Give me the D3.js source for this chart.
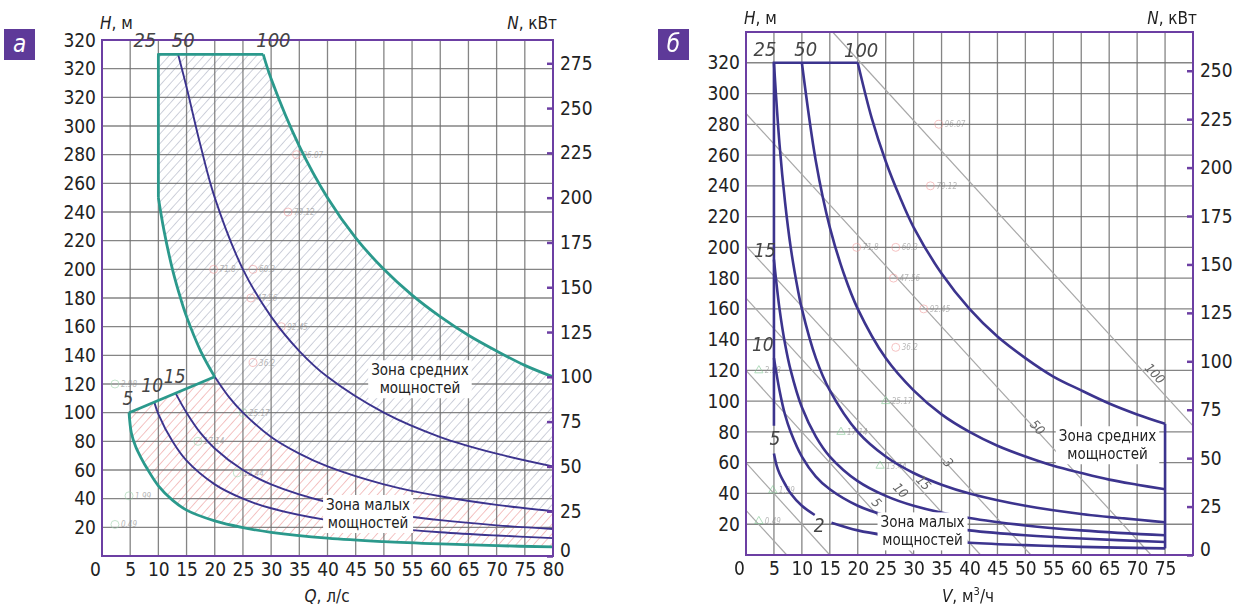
<!DOCTYPE html>
<html>
<head>
<meta charset="utf-8">
<script src="https://cdn.jsdelivr.net/npm/d3@7"></script>
<style>
  body { margin: 0; background: #fff; }
  svg text { font-family: "Liberation Sans Narrow", "DejaVu Sans Condensed", "Roboto", sans-serif; }
</style>
</head>
<body>
<svg id="chart" width="1234" height="606"></svg>
<script>
// ---- data ----
const qTicksA = [5,10,15,20,25,30,35,40,45,50,55,60,65,70,75,80];
const qTicksB = [5,10,15,20,25,30,35,40,45,50,55,60,65,70,75];
const qGrid = [5,10,15,20,25,30,35,40,45,50,55,60,65,70,75];
const hTicksA = [20,40,60,80,100,120,140,160,180,200,220,240,260,280,300,320,340,360];
const hLabelsA = ["20","40","60","80","100","120","140","160","180","200","220","240","260","280","300","320","320","320"];
const hTicksB = [20,40,60,80,100,120,140,160,180,200,220,240,260,280,300,320];
const nTicksA = [0,25,50,75,100,125,150,175,200,225,250,275];
const nTicksB = [0,25,50,75,100,125,150,175,200,225,250];

// panel а, Q (l/s) vs H (m)
const c5A = [[4.8,100],[5.2,86],[6,76],[7,68],[8,61],[10,49],[12.5,39],[15,32],[20,24.5],[25,19.8],[30,16.5],[40,12.4],[50,10],[60,8.4],[70,7.2],[80,6.3]];
const c10A = [[9.3,107],[10,99],[12.5,80],[15,66.5],[20,50],[25,40],[30,33.3],[40,25],[50,20],[60,16.6],[70,14.3],[80,12.5]];
const c15A = [[13,114],[15,100],[17.5,85.7],[20,75],[25,60],[30,50],[40,37.5],[50,30],[60,25],[70,21.4],[80,18.8]];
const c25AUp = [[10,250],[11,227],[12.5,200],[14,179],[15,167],[17.5,143],[20,125]];
const c25ALow = [[20,125],[22.5,111],[25,100],[30,83],[35,71.4],[40,62.5],[50,50],[60,41.7],[70,35.7],[80,31.3]];
const c50A = [[13.5,350],[15,327],[17.5,286],[20,250],[25,200],[30,167],[35,143],[40,125],[50,100],[60,83],[70,71.4],[80,62.5]];
const c100A = [[28.6,350],[30,333],[35,286],[40,250],[45,222],[50,200],[55,182],[60,167],[65,154],[70,143],[75,133],[80,125]];
const topA = [[10,250],[10,350],[28.6,350]];
const baseA = [[4.8,100],[20,125]];

// panel б, V (m3/h) vs H (m)
const c5Ba = [[5,66],[5.5,58],[6,53],[7,46],[8,40],[10,32],[12.3,26]];
const c5Bb = [[15.3,21],[20,16],[25,12.8],[30,10.7],[40,8],[50,6.4],[60,5.3],[75,4.3]];
const c10B = [[5,128],[6,107],[7,91],[8,80],[10,64],[12.5,51],[15,42.7],[20,32],[25,25.6],[30,21.3],[40,16],[50,12.8],[60,10.7],[75,8.5]];
const c15B = [[5,192],[6,160],[7,137],[8,120],[10,96],[12.5,77],[15,64],[20,48],[25,38.4],[30,32],[40,24],[50,19.2],[60,16],[75,12.8]];
const c25B = [[5,320],[6,267],[7,229],[8,200],[9,178],[10,160],[12.5,128],[15,107],[20,80],[25,64],[30,53.3],[35,45.7],[40,40],[50,32],[60,26.7],[75,21.3]];
const c50B = [[10,320],[12.5,256],[15,213],[17.5,183],[20,160],[25,128],[30,107],[35,91.4],[40,80],[45,71],[50,64],[55,58],[60,53.3],[65,49],[70,45.7],[75,42.7]];
const c100B = [[20,320],[22.5,284],[25,256],[27.5,233],[30,213],[35,183],[40,160],[45,142],[50,128],[55,116],[60,107],[65,98.5],[70,91.4],[75,85.3]];
const topB = [[5,84],[5,320],[20,320]];
const rightB = [[75,85.3],[75,4.3]];
const diagB = [
  [[15.5,340],[80,84]],
  [[0,287],[72.5,0]],
  [[0,201],[51,0]],
  [[0,167],[42,0]],
  [[0,120],[30,0]],
  [[0,60],[15,0]],
  [[0,29],[7.3,0]]
];

// faint test points, same in both panels
const marks = [
  [34.5,280,"96.07"],[33,240,"79.12"],[19.8,200,"71.8"],[26.8,200,"60.3"],
  [26.4,180,"47.56"],[31.8,160,"92.45"],[26.8,135,"36.2"],
  [25,100,"25.17"],[17,80,"17.14"],[24,58,"13.44"],[4.8,42,"1.99"],[2.3,22,"0.49"],[2.3,120,"2.98"]
];

const PURPLE = "#6c3fa3", TEAL = "#2b998c", INK = "#3c348e", GRID = "#707070";

const svg = d3.select("#chart");
const defs = svg.append("defs");

function hatch(id, color) {
  let p = defs.append("pattern")
    .attr("id", id)
    .attr("patternUnits", "userSpaceOnUse")
    .attr("width", 6.5).attr("height", 6.5)
    .attr("patternTransform", "rotate(42)");
  p.append("line")
    .attr("x1", 0).attr("y1", 0).attr("x2", 0).attr("y2", 6.5)
    .attr("stroke", color).attr("stroke-width", 1.2);
}
hatch("hGray", "#aeb3c4");
hatch("hRed", "#ec9c9c");

function panel(p) {
  let x = d3.scaleLinear().domain([0, 80]).range([p.left, p.right]);
  let y = d3.scaleLinear().domain([0, p.hMax]).range([p.bottom, p.top]);
  let yN = d3.scaleLinear().domain([0, p.nMax]).range([p.bottom, p.top]);
  let g = svg.append("g");
  let curved = d3.line().x(d => x(d[0])).y(d => y(d[1])).curve(d3.curveCatmullRom.alpha(0.5));
  let straight = d3.line().x(d => x(d[0])).y(d => y(d[1]));
  return {x, y, yN, g, curved, straight, p};
}

function region(P, segs) {
  // segs: [points, isCurved]
  return segs.map((s, i) => {
    let d = (s[1] ? P.curved : P.straight)(s[0]);
    return i ? "L" + d.slice(1) : d;
  }).join("") + "Z";
}

function grid(P, hGrid) {
  let {x, y, g, p} = P;
  g.append("g").selectAll("line").data(qGrid).join("line")
    .attr("x1", d => x(d)).attr("x2", d => x(d))
    .attr("y1", p.top).attr("y2", p.bottom)
    .attr("stroke", GRID).attr("stroke-width", 1.3).attr("opacity", 0.85);
  g.append("g").selectAll("line").data(hGrid).join("line")
    .attr("x1", p.left).attr("x2", p.right)
    .attr("y1", d => y(d)).attr("y2", d => y(d))
    .attr("stroke", GRID).attr("stroke-width", 1.3).attr("opacity", 0.85);
}

function axes(P, cfg) {
  let {x, y, yN, g, p} = P;
  let ax = g.append("g").attr("transform", "translate(" + p.left + ",0)")
    .call(d3.axisLeft(y).tickValues(cfg.hTicks).tickFormat((d, i) => cfg.hLabels[i]).tickSize(0).tickPadding(6));
  let bx = g.append("g").attr("transform", "translate(0," + p.bottom + ")")
    .call(d3.axisBottom(x).tickValues(cfg.qTicks).tickSize(0).tickPadding(7));
  let nx = g.append("g").attr("transform", "translate(" + p.right + ",0)")
    .call(d3.axisRight(yN).tickValues(cfg.nTicks).tickSizeInner(-6).tickSizeOuter(0).tickPadding(7));
  [ax, bx, nx].forEach(a => {
    a.select(".domain").remove();
    a.selectAll("text").attr("font-size", 19).attr("fill", "#222")
      .style("font-family", "'Liberation Sans Narrow','DejaVu Sans Condensed',Roboto,sans-serif");
  });
  nx.selectAll("line").attr("stroke", PURPLE).attr("stroke-width", 2.5);
  // the zero of N sits a little above the frame corner
  nx.selectAll(".tick text").filter(d => d === 0).attr("y", -6);
  g.append("text").attr("x", p.left - 12).attr("y", p.bottom + 20)
    .attr("font-size", 19).attr("fill", "#222").text("0");
  g.append("rect")
    .attr("x", p.left).attr("y", p.top)
    .attr("width", p.right - p.left).attr("height", p.bottom - p.top)
    .attr("fill", "none").attr("stroke", PURPLE).attr("stroke-width", 2);
}

function titles(P, cfg) {
  let {g, p} = P;
  let t = g.append("text").attr("x", p.left - 2).attr("y", cfg.ty).attr("font-size", 17).attr("fill", "#222");
  t.append("tspan").attr("font-style", "italic").text("H");
  t.append("tspan").text(", м");
  let n = g.append("text").attr("x", p.right + 4).attr("y", cfg.ty).attr("text-anchor", "end")
    .attr("font-size", 17).attr("fill", "#222");
  n.append("tspan").attr("font-style", "italic").text("N");
  n.append("tspan").text(", кВт");
  let q = g.append("text").attr("x", cfg.qx).attr("y", 602).attr("text-anchor", "middle")
    .attr("font-size", 17).attr("fill", "#222");
  q.append("tspan").attr("font-style", "italic").text(cfg.qName);
  q.append("tspan").text(cfg.qUnit);
  if (cfg.sup) {
    q.append("tspan").attr("font-size", 11).attr("dy", -7).text(cfg.sup);
    q.append("tspan").attr("dy", 7).text("/ч");
  }
  g.append("rect").attr("x", cfg.bx).attr("y", 29).attr("width", 31).attr("height", 31).attr("fill", "#5e3a99");
  g.append("text").attr("x", cfg.bx + 15.5).attr("y", 52).attr("text-anchor", "middle")
    .attr("font-size", 24).attr("font-style", "italic").attr("fill", "#fff").text(cfg.letter);
}

function drawMarks(P, tri) {
  let {x, y, g} = P;
  let m = g.append("g").attr("opacity", 0.6);
  marks.forEach((d, i) => {
    let green = i >= 7;
    if (green && tri) {
      m.append("path").attr("d", d3.symbol(d3.symbolTriangle, 30)())
        .attr("transform", "translate(" + x(d[0]) + "," + y(d[1]) + ")")
        .attr("fill", "none").attr("stroke", "#7cc48f").attr("stroke-width", 1);
    } else {
      m.append("circle").attr("cx", x(d[0])).attr("cy", y(d[1])).attr("r", 4)
        .attr("fill", "none").attr("stroke", green ? "#9fd3ad" : "#ef9a9a").attr("stroke-width", 1);
    }
    m.append("text").attr("x", x(d[0]) + 6).attr("y", y(d[1]) + 3)
      .attr("font-size", 8).attr("font-style", "italic").attr("fill", "#888").text(d[2]);
  });
}

function zoneLabel(P, q, h, l1, l2) {
  let {x, y, g} = P;
  let cx = x(q), cy = y(h);
  let t = g.append("text").attr("text-anchor", "middle").attr("font-size", 15).attr("fill", "#222");
  t.append("tspan").attr("x", cx).attr("y", cy - 3).text(l1);
  t.append("tspan").attr("x", cx).attr("y", cy + 15).text(l2);
  let bb = t.node().getBBox();
  g.insert("rect", () => t.node())
    .attr("x", bb.x - 3).attr("y", bb.y - 1).attr("width", bb.width + 6).attr("height", bb.height + 2)
    .attr("fill", "#fff");
}

function tag(P, q, h, s, size, rot) {
  let {x, y, g} = P;
  return g.append("text")
    .attr("transform", "translate(" + x(q) + "," + y(h) + ")" + (rot ? " rotate(" + rot + ")" : ""))
    .attr("text-anchor", "middle").attr("dy", "0.35em")
    .attr("font-size", size).attr("font-style", "italic").attr("fill", "#444").text(s);
}

// ---------- panel а ----------
let A = panel({left: 102, right: 553, top: 40, bottom: 556, hMax: 360, nMax: 288});
A.g.append("path").attr("d", region(A, [[topA, false], [c100A, true], [[[80,125],[80,31.3]], false], [c25ALow.slice().reverse(), true], [c25AUp.slice().reverse(), true]]))
  .attr("fill", "url(#hGray)");
A.g.append("path").attr("d", region(A, [[baseA, false], [c25ALow, true], [[[80,31.3],[80,6.3]], false], [c5A.slice().reverse(), true]]))
  .attr("fill", "url(#hRed)");
grid(A, hTicksA.slice(0, -1));
drawMarks(A, false);
[c50A, c25ALow, c15A, c10A].forEach(c => {
  A.g.append("path").attr("d", A.curved(c)).attr("fill", "none").attr("stroke", INK).attr("stroke-width", 1.9);
});
[[topA, false], [c100A, true], [c25AUp, true], [baseA, false], [c5A, true]].forEach(s => {
  A.g.append("path").attr("d", (s[1] ? A.curved : A.straight)(s[0]))
    .attr("fill", "none").attr("stroke", TEAL).attr("stroke-width", 2.8).attr("stroke-linejoin", "round");
});
axes(A, {hTicks: hTicksA, hLabels: hLabelsA, qTicks: qTicksA, nTicks: nTicksA});
[["25", 7.6], ["50", 14.4], ["100", 30.4]].forEach(d => {
  let t = tag(A, d[1], 360, d[0], 20, 0);
  let bb = t.node().getBBox();
  A.g.insert("rect", () => t.node()).attr("fill", "#fff")
    .attr("x", bb.x - 2).attr("y", bb.y + 4).attr("width", bb.width + 4).attr("height", bb.height - 8);
});
[["5", 4.6, 110], ["10", 8.9, 119], ["15", 12.9, 125]].forEach(d => tag(A, d[1], d[2], d[0], 19, 0));
zoneLabel(A, 56.4, 124, "Зона средних", "мощностей");
zoneLabel(A, 47.2, 30, "Зона малых", "мощностей");
titles(A, {ty: 29, qx: 327, qName: "Q", qUnit: ", л/с", bx: 4, letter: "а"});

// ---------- panel б ----------
let B = panel({left: 746, right: 1193, top: 32, bottom: 555, hMax: 340, nMax: 270});
grid(B, hTicksB);
B.g.append("g").selectAll("line").data(diagB).join("line")
  .attr("x1", d => B.x(d[0][0])).attr("y1", d => B.y(d[0][1]))
  .attr("x2", d => B.x(d[1][0])).attr("y2", d => B.y(d[1][1]))
  .attr("stroke", "#a8a8a8").attr("stroke-width", 1.2);
drawMarks(B, true);
[c100B, c50B, c25B, c15B, c10B, c5Ba, c5Bb].forEach(c => {
  B.g.append("path").attr("d", B.curved(c)).attr("fill", "none").attr("stroke", INK).attr("stroke-width", 2.6);
});
[topB, rightB].forEach(c => {
  B.g.append("path").attr("d", B.straight(c)).attr("fill", "none").attr("stroke", INK).attr("stroke-width", 2.6);
});
axes(B, {hTicks: hTicksB, hLabels: hTicksB.map(String), qTicks: qTicksB, nTicks: nTicksB});
[["25", 3.4, 329], ["50", 10.7, 329], ["100", 20.6, 328]].forEach(d => tag(B, d[1], d[2], d[0], 20, 0));
[["15", 3.4, 198], ["10", 3, 137], ["5", 5.2, 76], ["2", 13.1, 19]].forEach(d => tag(B, d[1], d[2], d[0], 19, 0));
[["100", 73.2, 118], ["50", 52.2, 83], ["3", 36.2, 60], ["15", 31.8, 47], ["10", 27.7, 42], ["5", 23.4, 34]]
  .forEach(d => tag(B, d[1], d[2], d[0], 13, 47).attr("fill", "#666"));
zoneLabel(B, 64.7, 72, "Зона средних", "мощностей");
zoneLabel(B, 31.6, 16, "Зона малых", "мощностей");
titles(B, {ty: 24, qx: 968, qName: "V", qUnit: ", м", sup: "3", bx: 658, letter: "б"});
</script>
</body>
</html>
